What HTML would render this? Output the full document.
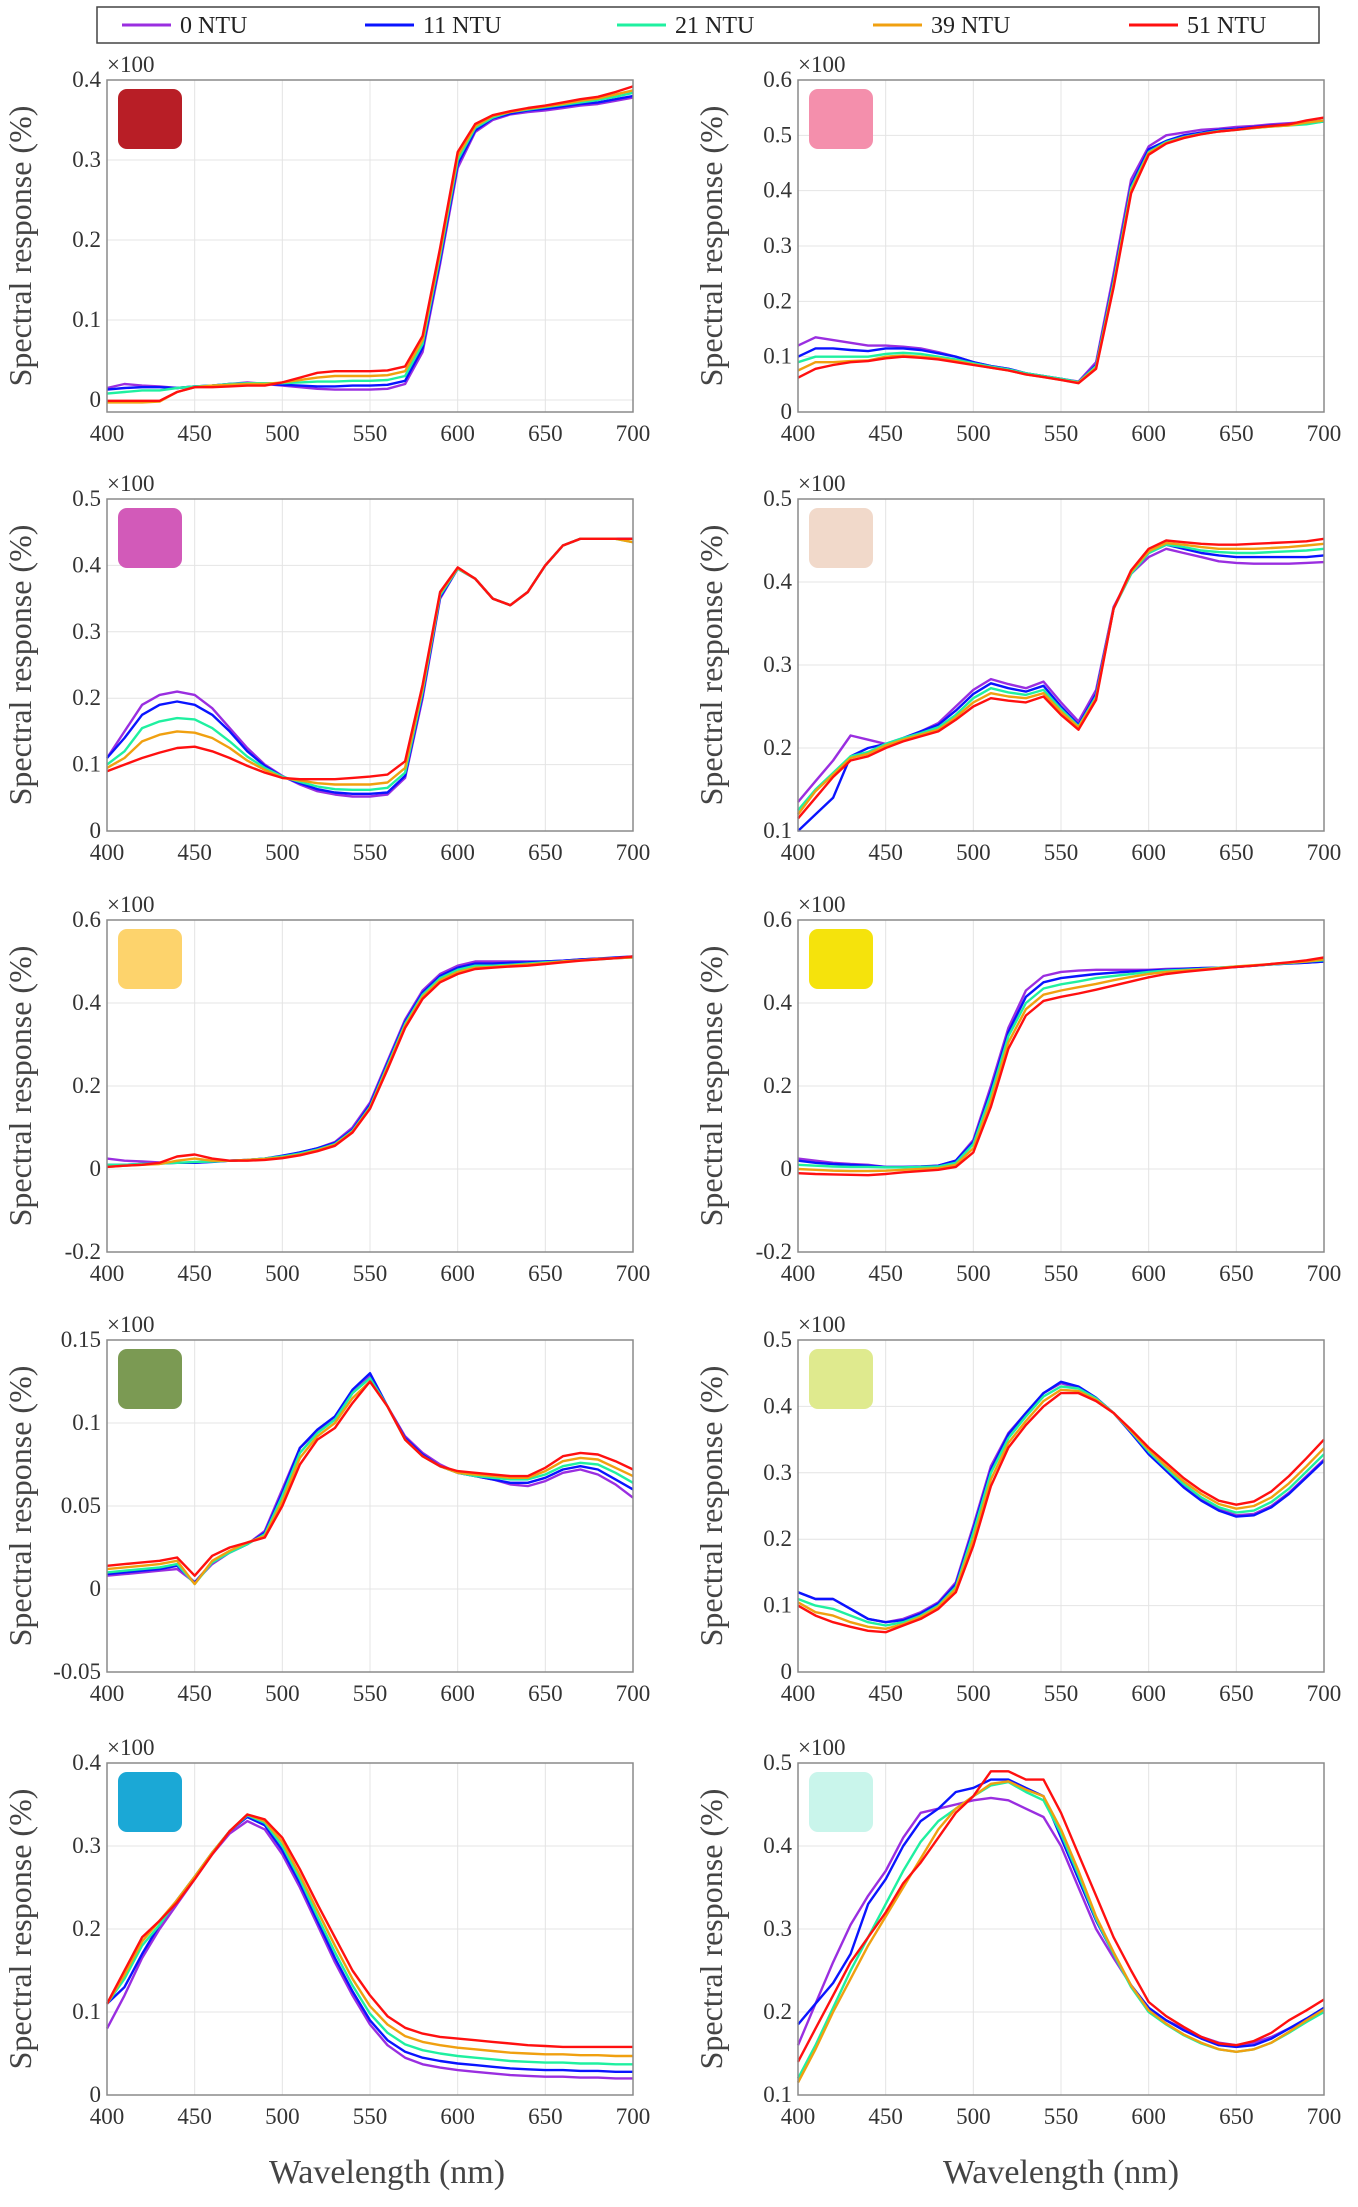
<!DOCTYPE html>
<html><head><meta charset="utf-8"><style>
html,body{margin:0;padding:0;background:#fff;}
svg{display:block;font-family:"Liberation Serif",serif;}
</style></head><body>
<svg id="fig" width="1358" height="2207" viewBox="0 0 1358 2207" xmlns="http://www.w3.org/2000/svg">
<g>
<rect x="97" y="7" width="1222" height="36" fill="#fff" stroke="#444" stroke-width="1.5"/>
</g>
</svg>
<script>
const NS="http://www.w3.org/2000/svg";
const svg=document.getElementById('fig');
const wavelengths=[400,410,420,430,440,450,460,470,480,490,500,510,520,530,540,550,560,570,580,590,600,610,620,630,640,650,660,670,680,690,700];
const seriesNames=["0 NTU","11 NTU","21 NTU","39 NTU","51 NTU"];
const seriesColors=["#9a2ee0","#0a14ff","#1ff0a0","#f0a010","#ff1010"];
const xTicks=[400,450,500,550,600,650,700];

const p1_0=[.015,.02,.018,.017,.015,.017,.018,.02,.022,.02,.018,.016,.014,.013,.013,.013,.014,.02,.06,.17,.29,.335,.35,.357,.36,.362,.365,.368,.37,.374,.378];
const p1_11=[.013,.015,.016,.016,.015,.017,.018,.02,.021,.02,.019,.018,.017,.017,.018,.018,.019,.024,.065,.175,.295,.337,.352,.358,.362,.364,.367,.37,.372,.376,.38];
const p1_21=[.008,.01,.012,.012,.015,.017,.018,.02,.021,.021,.021,.022,.023,.023,.024,.024,.025,.03,.07,.18,.3,.34,.353,.36,.363,.366,.369,.372,.375,.379,.384];
const p1_39=[-.003,-.003,-.003,-.002,.01,.016,.018,.019,.02,.02,.022,.025,.028,.03,.03,.03,.031,.036,.075,.185,.305,.342,.355,.36,.364,.367,.37,.374,.377,.382,.387];
const p1_51=[-.001,-.001,-.001,-.001,.01,.016,.016,.017,.018,.018,.022,.028,.034,.036,.036,.036,.037,.042,.08,.19,.31,.345,.356,.361,.365,.368,.372,.376,.379,.385,.392];

const p2_0=[.12,.135,.13,.125,.12,.12,.118,.115,.108,.1,.09,.083,.078,.07,.065,.06,.055,.09,.25,.42,.48,.5,.505,.51,.512,.515,.517,.52,.522,.524,.527];
const p2_11=[.1,.115,.115,.112,.11,.115,.115,.112,.106,.1,.09,.083,.078,.07,.065,.06,.054,.085,.24,.41,.475,.49,.5,.505,.51,.512,.515,.518,.52,.522,.525];
const p2_21=[.09,.1,.1,.1,.1,.105,.107,.105,.1,.095,.088,.082,.077,.07,.065,.06,.054,.083,.235,.405,.47,.488,.497,.503,.508,.51,.513,.516,.518,.52,.525];
const p2_39=[.075,.09,.09,.092,.093,.1,.102,.1,.097,.092,.086,.08,.075,.068,.063,.058,.053,.08,.23,.4,.468,.486,.496,.502,.507,.51,.513,.516,.518,.523,.527];
const p2_51=[.062,.078,.085,.09,.092,.097,.1,.098,.095,.09,.085,.08,.075,.068,.063,.058,.052,.078,.225,.395,.465,.485,.495,.502,.507,.51,.514,.517,.52,.527,.532];

const p3_0=[.11,.15,.19,.205,.21,.205,.185,.155,.125,.1,.083,.07,.06,.055,.052,.052,.055,.08,.2,.35,.395,.38,.35,.34,.36,.4,.43,.44,.44,.44,.44];
const p3_11=[.11,.14,.175,.19,.195,.19,.175,.15,.12,.098,.082,.072,.063,.058,.056,.056,.058,.083,.205,.352,.395,.38,.35,.34,.36,.4,.43,.44,.44,.44,.44];
const p3_21=[.1,.12,.155,.165,.17,.168,.155,.135,.112,.095,.082,.074,.067,.063,.062,.062,.065,.088,.21,.355,.395,.38,.35,.34,.36,.4,.43,.44,.44,.44,.435];
const p3_39=[.095,.11,.135,.145,.15,.148,.14,.125,.106,.092,.08,.076,.072,.07,.07,.07,.073,.095,.215,.358,.396,.38,.35,.34,.36,.4,.43,.44,.44,.44,.435];
const p3_51=[.09,.1,.11,.118,.125,.127,.12,.11,.098,.088,.08,.078,.078,.078,.08,.082,.085,.105,.22,.36,.397,.38,.35,.34,.36,.4,.43,.44,.44,.44,.44];

const p4_0=[.135,.16,.185,.215,.21,.205,.21,.22,.23,.25,.27,.283,.277,.272,.28,.255,.232,.27,.37,.41,.43,.44,.435,.43,.425,.423,.422,.422,.422,.423,.424];
const p4_11=[.1,.12,.14,.19,.2,.205,.212,.22,.228,.245,.265,.278,.272,.268,.275,.25,.228,.265,.368,.41,.435,.445,.44,.435,.432,.43,.43,.43,.43,.43,.432];
const p4_21=[.125,.15,.17,.19,.195,.205,.212,.218,.225,.24,.26,.272,.267,.264,.27,.247,.226,.262,.368,.41,.435,.445,.442,.438,.436,.435,.435,.436,.437,.438,.44];
const p4_39=[.12,.148,.168,.188,.193,.203,.21,.216,.222,.237,.255,.266,.262,.26,.266,.244,.225,.26,.368,.412,.437,.447,.445,.442,.44,.44,.44,.441,.442,.444,.446];
const p4_51=[.115,.14,.165,.185,.19,.2,.208,.214,.22,.234,.25,.26,.257,.255,.262,.24,.222,.258,.368,.414,.44,.45,.448,.446,.445,.445,.446,.447,.448,.449,.452];

const p5_0=[.025,.02,.018,.016,.015,.015,.018,.02,.022,.025,.03,.04,.05,.065,.1,.16,.26,.36,.43,.47,.49,.5,.5,.5,.5,.5,.502,.505,.507,.508,.51];
const p5_11=[.01,.01,.012,.013,.015,.015,.017,.02,.022,.025,.032,.04,.05,.063,.095,.155,.255,.355,.425,.465,.485,.495,.495,.497,.498,.5,.502,.505,.507,.51,.512];
const p5_21=[.01,.01,.012,.013,.015,.017,.018,.02,.022,.025,.03,.037,.047,.06,.092,.15,.25,.35,.42,.46,.48,.49,.49,.492,.495,.498,.5,.503,.505,.508,.51];
const p5_39=[.005,.008,.01,.012,.02,.025,.02,.02,.022,.024,.028,.035,.045,.058,.09,.147,.245,.345,.415,.455,.475,.485,.487,.49,.493,.496,.5,.503,.506,.508,.51];
const p5_51=[.005,.008,.01,.015,.03,.035,.025,.02,.02,.022,.026,.033,.043,.056,.088,.145,.24,.34,.41,.45,.47,.482,.485,.488,.49,.494,.498,.502,.505,.508,.512];

const p6_0=[.025,.02,.015,.012,.01,.005,.005,.005,.008,.02,.07,.2,.34,.43,.465,.475,.478,.48,.48,.48,.48,.482,.483,.484,.485,.487,.49,.493,.495,.497,.5];
const p6_11=[.02,.015,.012,.01,.008,.005,.005,.006,.008,.02,.065,.19,.33,.415,.45,.46,.465,.47,.473,.476,.478,.48,.482,.484,.485,.487,.49,.493,.495,.497,.5];
const p6_21=[.01,.008,.006,.005,.005,.004,.004,.005,.006,.015,.06,.18,.32,.4,.435,.445,.452,.46,.465,.47,.475,.478,.48,.482,.485,.488,.49,.493,.496,.5,.503];
const p6_39=[0,-.002,-.004,-.005,-.005,-.004,-.002,0,.002,.01,.05,.165,.305,.385,.42,.43,.438,.446,.455,.463,.47,.475,.478,.481,.484,.488,.491,.494,.497,.5,.505];
const p6_51=[-.01,-.012,-.013,-.014,-.015,-.012,-.008,-.005,-.002,.005,.04,.15,.29,.37,.405,.415,.423,.432,.442,.452,.462,.47,.475,.479,.483,.487,.49,.494,.498,.503,.51];

const p7_0=[.008,.009,.01,.011,.012,.004,.015,.022,.027,.035,.06,.085,.095,.102,.118,.128,.11,.092,.082,.075,.07,.068,.066,.063,.062,.065,.07,.072,.069,.063,.055];
const p7_11=[.009,.01,.011,.012,.014,.004,.016,.022,.027,.034,.058,.085,.096,.104,.12,.13,.11,.091,.081,.074,.07,.068,.066,.064,.064,.067,.072,.074,.072,.066,.06];
const p7_21=[.01,.011,.012,.013,.015,.003,.016,.022,.027,.033,.056,.082,.094,.102,.118,.127,.11,.09,.08,.074,.07,.068,.067,.066,.066,.069,.074,.076,.075,.07,.064];
const p7_39=[.012,.013,.014,.015,.017,.003,.017,.023,.028,.032,.053,.079,.092,.1,.115,.125,.11,.09,.08,.074,.07,.069,.068,.067,.067,.071,.077,.079,.078,.073,.068];
const p7_51=[.014,.015,.016,.017,.019,.008,.02,.025,.028,.031,.05,.075,.09,.097,.112,.125,.11,.09,.08,.074,.071,.07,.069,.068,.068,.073,.08,.082,.081,.077,.072];

const p8_0=[.12,.11,.11,.095,.08,.075,.08,.09,.105,.135,.22,.31,.36,.39,.42,.435,.428,.412,.39,.362,.33,.305,.28,.26,.245,.236,.238,.25,.27,.295,.32];
const p8_11=[.12,.11,.11,.095,.08,.075,.078,.088,.103,.132,.215,.305,.358,.39,.42,.437,.43,.413,.39,.36,.328,.303,.278,.258,.243,.234,.236,.248,.268,.293,.318];
const p8_21=[.11,.1,.095,.085,.075,.07,.075,.085,.1,.128,.21,.3,.352,.385,.415,.43,.427,.412,.39,.362,.332,.307,.283,.263,.248,.24,.243,.256,.276,.302,.328];
const p8_39=[.105,.09,.085,.075,.068,.065,.072,.083,.098,.125,.2,.29,.345,.378,.408,.425,.423,.41,.39,.363,.335,.31,.287,.268,.253,.246,.25,.263,.284,.31,.337];
const p8_51=[.1,.085,.075,.068,.062,.06,.07,.08,.095,.12,.19,.28,.338,.372,.4,.42,.42,.408,.39,.365,.338,.315,.292,.273,.258,.252,.257,.272,.295,.322,.35];

const p9_0=[.08,.12,.165,.2,.23,.26,.29,.315,.33,.32,.29,.25,.205,.16,.12,.085,.06,.045,.037,.033,.03,.028,.026,.024,.023,.022,.022,.021,.021,.02,.02];
const p9_11=[.11,.13,.17,.205,.235,.263,.292,.318,.335,.325,.295,.255,.21,.165,.125,.09,.066,.052,.045,.041,.038,.036,.034,.032,.031,.03,.03,.029,.029,.028,.028];
const p9_21=[.11,.14,.18,.205,.235,.263,.292,.318,.337,.328,.3,.26,.215,.172,.132,.098,.075,.061,.054,.05,.047,.045,.043,.041,.04,.039,.039,.038,.038,.037,.037];
const p9_39=[.11,.145,.185,.21,.235,.263,.292,.318,.338,.33,.305,.265,.222,.18,.14,.107,.085,.071,.064,.06,.057,.055,.053,.051,.05,.049,.049,.048,.048,.047,.047];
const p9_51=[.11,.15,.19,.21,.232,.26,.29,.318,.338,.332,.31,.272,.23,.19,.15,.12,.095,.081,.074,.07,.068,.066,.064,.062,.06,.059,.058,.058,.058,.058,.058];

const p10_0=[.16,.21,.26,.305,.34,.37,.41,.44,.445,.45,.455,.458,.455,.445,.435,.4,.35,.3,.265,.232,.205,.19,.18,.17,.163,.16,.163,.17,.18,.19,.2];
const p10_11=[.185,.21,.235,.27,.33,.36,.4,.43,.445,.465,.47,.48,.48,.47,.46,.41,.36,.31,.27,.232,.205,.19,.178,.168,.16,.158,.16,.168,.18,.192,.205];
const p10_21=[.12,.16,.205,.25,.29,.33,.37,.405,.43,.445,.46,.473,.477,.465,.455,.415,.365,.312,.27,.23,.2,.185,.172,.162,.155,.152,.155,.163,.175,.188,.2];
const p10_39=[.115,.155,.2,.24,.28,.315,.35,.385,.42,.445,.46,.475,.478,.468,.46,.42,.37,.315,.272,.232,.202,.186,.173,.163,.155,.152,.155,.163,.176,.19,.203];
const p10_51=[.14,.18,.22,.26,.29,.32,.355,.38,.41,.44,.46,.49,.49,.48,.48,.44,.39,.34,.29,.25,.212,.195,.182,.17,.162,.16,.165,.175,.19,.202,.215];

const panelSeries=[[p1_0,p1_11,p1_21,p1_39,p1_51],[p2_0,p2_11,p2_21,p2_39,p2_51],[p3_0,p3_11,p3_21,p3_39,p3_51],[p4_0,p4_11,p4_21,p4_39,p4_51],[p5_0,p5_11,p5_21,p5_39,p5_51],[p6_0,p6_11,p6_21,p6_39,p6_51],[p7_0,p7_11,p7_21,p7_39,p7_51],[p8_0,p8_11,p8_21,p8_39,p8_51],[p9_0,p9_11,p9_21,p9_39,p9_51],[p10_0,p10_11,p10_21,p10_39,p10_51]];
const yMins=[-0.015,0,0,0.1,-0.2,-0.2,-0.05,0,0,0.1];
const yMaxs=[0.4,0.6,0.5,0.5,0.6,0.6,0.15,0.5,0.4,0.5];
const yTickLabels=[["0","0.1","0.2","0.3","0.4"],["0","0.1","0.2","0.3","0.4","0.5","0.6"],["0","0.1","0.2","0.3","0.4","0.5"],["0.1","0.2","0.3","0.4","0.5"],["-0.2","0","0.2","0.4","0.6"],["-0.2","0","0.2","0.4","0.6"],["-0.05","0","0.05","0.1","0.15"],["0","0.1","0.2","0.3","0.4","0.5"],["0","0.1","0.2","0.3","0.4"],["0.1","0.2","0.3","0.4","0.5"]];
const swatchColors=["#b81e26","#f48fac","#d25ab9","#f1d9ca","#fdd36c","#f5e30c","#7b9a53","#dfea8e","#1ba8d6","#c9f5eb"];

const colX=[107,798], plotW=526;
const rowY=[80,499,920,1340,1763], plotH=332;

function el(tag,attrs,parent){const e=document.createElementNS(NS,tag);for(const k in attrs)e.setAttribute(k,attrs[k]);(parent||svg).appendChild(e);return e;}

const legX=[122,365,617,873,1129];
seriesNames.forEach((n,i)=>{
  const g=el('g',{});
  
  
  el('line',{x1:legX[i],x2:legX[i]+49,y1:25,y2:25,stroke:seriesColors[i],'stroke-width':3},g);
  const t=el('text',{x:legX[i]+58,y:33,'font-size':24,fill:'#222'},g);t.textContent=n;
});

panelSeries.forEach((ser,p)=>{
  const L=colX[p%2], T=rowY[Math.floor(p/2)];
  const ymin=yMins[p], ymax=yMaxs[p];
  const X=w=>L+(w-400)/300*plotW;
  const Y=v=>T+plotH-(v-ymin)/(ymax-ymin)*plotH;
  const g=el('g',{});
  
  
  el('rect',{x:L,y:T,width:plotW,height:plotH,fill:'#fff'},g);
  xTicks.forEach(t=>{el('line',{x1:X(t),x2:X(t),y1:T,y2:T+plotH,stroke:'#e4e4e4','stroke-width':1},g);
    const tl=el('text',{x:X(t),y:T+plotH+29,'font-size':23,'text-anchor':'middle',fill:'#333'},g);tl.textContent=t;
    
    });
  yTickLabels[p].forEach(s=>{const v=parseFloat(s);const yy=Y(v);
    if(v>ymin&&v<ymax)el('line',{x1:L,x2:L+plotW,y1:yy,y2:yy,stroke:'#e4e4e4','stroke-width':1},g);
    const tl=el('text',{x:L-6,y:yy+7,'font-size':23,'text-anchor':'end',fill:'#333'},g);tl.textContent=s;
    
    });
  const sw=el('rect',{x:L+11,y:T+9,width:64,height:60,rx:9,fill:swatchColors[p]},g);
  
  
  ser.forEach((vals,i)=>{
    const d=vals.map((v,k)=>(k?'L':'M')+X(wavelengths[k]).toFixed(1)+','+Y(v).toFixed(1)).join('');
    const path=el('path',{d:d,fill:'none',stroke:seriesColors[i],'stroke-width':2.4,'stroke-linejoin':'round'},g);
    
    
  });
  el('rect',{x:L,y:T,width:plotW,height:plotH,fill:'none',stroke:'#8a8a8a','stroke-width':1.5},g);
  const mult=el('text',{x:L,y:T-8,'font-size':23,fill:'#333'},g);mult.textContent='×100';
  
  
  const yt=el('text',{x:0,y:0,'font-size':32,'text-anchor':'middle',fill:'#444',transform:`translate(${L-76},${T+plotH/2}) rotate(-90)`},g);
  yt.textContent='Spectral response (%)';
  
  
});
[387,1061].forEach(cx=>{
  const t=el('text',{x:cx,y:2183,'font-size':34,'text-anchor':'middle',fill:'#444'});
  t.textContent='Wavelength (nm)';
  
  
});
</script>
</body></html>
